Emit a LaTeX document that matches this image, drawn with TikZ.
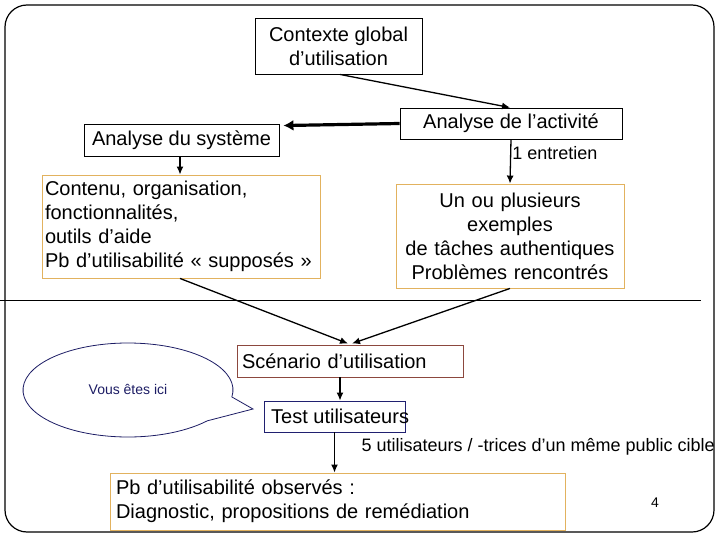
\documentclass[tikz,border=0pt]{standalone}
\usepackage{fontspec}
\setmainfont{Liberation Sans}
\usetikzlibrary{arrows.meta,calc}
\definecolor{boxorange}{RGB}{226,178,94}
\definecolor{boxbrown}{RGB}{140,72,62}
\definecolor{boxnavy}{RGB}{32,32,112}
\definecolor{bubnavy}{RGB}{28,28,100}
\tikzset{
  big/.style={font=\fontsize{20}{24}\selectfont},
  med/.style={font=\fontsize{18}{21}\selectfont},
  plainbox/.style={draw=black, line width=0.9pt, big, inner xsep=6pt, inner ysep=2pt},
  orbox/.style={draw=boxorange, line width=0.9pt, big, inner xsep=6pt, inner ysep=2pt},
  conn/.style={line width=1.3pt, -{Latex[length=8pt,width=7pt]}},
  thickconn/.style={line width=3.2pt, -{Latex[length=10pt,width=11pt]}},
}
\begin{document}
\begin{tikzpicture}[x=1pt,y=-1pt]
\useasboundingbox (0,0) rectangle (720,540);
% frame
\draw[line width=1.2pt, rounded corners=22pt] (5,5) rectangle (714,532);
\coordinate (hl) at (0,300);
\coordinate (hr) at (701,300);
\draw[line width=1pt] (hl) -- (hr);

% nodes
\node[plainbox, minimum width=167, minimum height=56, align=center] (ctx) at (338.5,46)
  {Contexte global\\d’utilisation};
\node[plainbox, minimum width=222, minimum height=31] (act) at (511,123.5)
  {Analyse de l’activité};
\node[plainbox, minimum width=195, minimum height=32] (sys) at (181.5,140)
  {Analyse du système};
\node[orbox, inner xsep=3pt, minimum width=278, minimum height=103, text width=272, align=left] (cont) at (181,226.5)
  {Contenu, organisation,\\fonctionnalités,\\outils d’aide\\Pb d’utilisabilité « supposés »};
\node[orbox, minimum width=228, minimum height=104, text width=216, align=center] (un) at (510,236)
  {Un ou plusieurs\\exemples\\de tâches authentiques\\Problèmes rencontrés};
\node[draw=boxbrown, line width=0.9pt, big, inner xsep=5pt, minimum width=226, minimum height=32, text width=216, align=left] (scen) at (350,361)
  {Scénario d’utilisation};
\node[draw=boxnavy, line width=0.9pt, minimum width=141, minimum height=31] (test) at (334.5,416.5) {};
\node[big, anchor=west, inner sep=0pt] (testlbl) at (271,416.5) {Test utilisateurs};
\node[orbox, minimum width=455, minimum height=57, text width=443, align=left] (pb) at (337.5,501.5)
  {Pb d’utilisabilité observés :\\Diagnostic, propositions de remédiation};

% speech bubble
\coordinate (bub) at (128,390);
\coordinate (tip) at (253,409);
\draw[bubnavy, line width=0.8pt] (tip) -- ($(bub)+(8.5:105 and 47)$)
  arc[start angle=8.5, end angle=-319, x radius=105, y radius=47] -- cycle;
\node[font=\fontsize{14}{16}\selectfont, text=bubnavy] (ici) at (128,389) {Vous êtes ici};

% connectors
\draw[conn] ([xshift=1.5pt]ctx.south) -- ([xshift=-1pt]act.north);
\draw[thickconn] (act.west) -- ([xshift=4pt,yshift=-2pt]sys.north east);
\draw[conn] ([xshift=-1.5pt]sys.south) -- ([xshift=-1pt]cont.north);
\draw[conn] (act.south) -- node[pos=0.3, anchor=west, med, inner xsep=1pt] (entre) {1 entretien} (un.north);
\draw[conn] ([xshift=-1pt]cont.south) -- ([xshift=-2pt,yshift=1pt]scen.north);
\draw[conn] (un.south) -- ([xshift=2pt,yshift=1pt]scen.north);
\draw[conn] ([xshift=-10pt]scen.south) -- ([xshift=5.5pt]test.north);
\draw[conn] (test.south) -- (test.south |- pb.north);
\node[med, anchor=west] (cible) at (358,447) {5 utilisateurs / -trices d’un même public cible};
\node[font=\fontsize{14}{16}\selectfont] (num) at (655,503) {4};
\end{tikzpicture}
\end{document}
